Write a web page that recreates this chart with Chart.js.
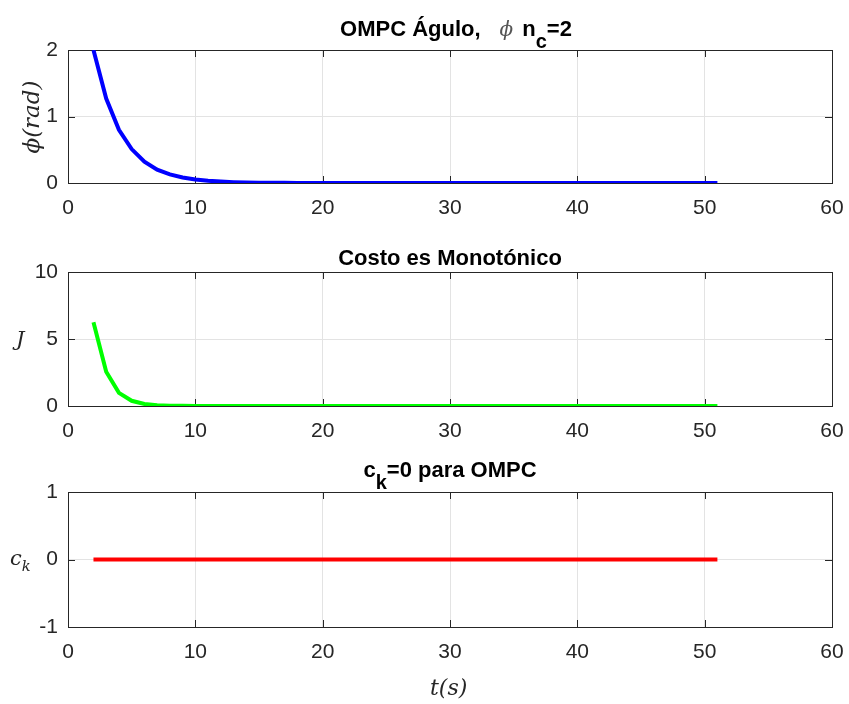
<!DOCTYPE html>
<html><head><meta charset="utf-8">
<script src="https://cdn.jsdelivr.net/npm/chart.js@4/dist/chart.umd.min.js"></script>
<style>
body{margin:0;background:#fff;width:849px;height:704px;position:relative;overflow:hidden;font-family:"Liberation Sans",Arial,sans-serif;}
canvas{position:absolute;left:0;}
.title{position:absolute;left:68px;width:764px;text-align:center;font-weight:bold;font-size:22px;line-height:25px;color:#000;white-space:nowrap;}
.math{font-family:"DejaVu Serif","Liberation Serif",serif;font-style:italic;font-weight:normal;}
.lab{position:absolute;color:#262626;white-space:nowrap;}
.sub{position:relative;top:12px;font-size:20px;}
.lsub{font-size:70%;position:relative;top:6px;}
</style></head><body>
<canvas id="c1" width="849" height="225" style="top:0"></canvas>
<canvas id="c2" width="849" height="225" style="top:225px"></canvas>
<canvas id="c3" width="849" height="254" style="top:450px"></canvas>
<div class="title" style="top:16px;left:74px">OMPC Águlo,<span class="math" style="font-size:20px;color:#555;margin:0 9px 0 19px">ϕ</span>n<span class="sub">c</span>=2</div>
<div class="title" style="top:245px">Costo es Monotónico</div>
<div class="title" style="top:457px">c<span class="sub">k</span>=0 para OMPC</div>
<div class="lab math" style="left:-12px;top:104px;width:86px;font-size:23px;transform:rotate(-90deg);transform-origin:center;text-align:center;">ϕ(rad)</div>
<div class="lab math" style="left:16px;top:327px;font-size:21px;">J</div>
<div class="lab math" style="left:10px;top:546px;font-size:21px;">c<span class="lsub">k</span></div>
<div class="lab math" style="left:430px;top:675px;font-size:22px;">t(s)</div>
<script>
const tSeconds = [2,3,4,5,6,7,8,9,10,11,12,13,14,15,16,17,18,19,20,21,22,23,24,25,26,27,28,29,30,31,32,33,34,35,36,37,38,39,40,41,42,43,44,45,46,47,48,49,50,51];
const phiValues = [2.00,1.27,0.80,0.51,0.32,0.20,0.13,0.082,0.052,0.033,0.021,0.013,0.0084,0.0053,0.0034,0.0021,0.0014,0.0009,0.0006,0.0004,0.0002,0.0001,0,0,0,0,0,0,0,0,0,0,0,0,0,0,0,0,0,0,0,0,0,0,0,0,0,0,0,0];
const costValues = [6.25,2.55,0.98,0.39,0.155,0.062,0.025,0.010,0.004,0.0016,0.0006,0.0003,0.0001,0,0,0,0,0,0,0,0,0,0,0,0,0,0,0,0,0,0,0,0,0,0,0,0,0,0,0,0,0,0,0,0,0,0,0,0,0];
const ckValues = [0,0,0,0,0,0,0,0,0,0,0,0,0,0,0,0,0,0,0,0,0,0,0,0,0,0,0,0,0,0,0,0,0,0,0,0,0,0,0,0,0,0,0,0,0,0,0,0,0,0];
const xTicks = [0,10,20,30,40,50,60];

const boxPlugin = {
  id:'box',
  beforeDatasetsDraw(chart){
    const {ctx, chartArea:a, scales} = chart;
    ctx.save();
    ctx.strokeStyle='#262626'; ctx.lineWidth=1;
    ctx.strokeRect(Math.round(a.left)+0.5, Math.round(a.top)+0.5, Math.round(a.right-a.left), Math.round(a.bottom-a.top));
    ctx.beginPath();
    scales.x.ticks.forEach(t=>{const p=Math.round(scales.x.getPixelForValue(t.value))+0.5;
      ctx.moveTo(p,a.bottom); ctx.lineTo(p,a.bottom-7); ctx.moveTo(p,a.top); ctx.lineTo(p,a.top+7);});
    scales.y.ticks.forEach(t=>{const p=Math.round(scales.y.getPixelForValue(t.value))+0.5;
      ctx.moveTo(a.left,p); ctx.lineTo(a.left+7,p); ctx.moveTo(a.right,p); ctx.lineTo(a.right-7,p);});
    ctx.stroke();
    ctx.restore();
  }
};

function makeChart(id, data, color, ymin, ymax, ystep, topPad, bottomY, canvasH){
  return new Chart(document.getElementById(id), {
    type:'line',
    data:{datasets:[{data:tSeconds.map((t,i)=>({x:t,y:data[i]})), borderColor:color, borderWidth:4, pointRadius:0, tension:0, fill:false}]},
    options:{
      responsive:false, animation:false, devicePixelRatio:1,
      layout:{padding:{top:topPad,right:17,left:0,bottom:0}},
      plugins:{legend:{display:false},tooltip:{enabled:false}},
      scales:{
        x:{type:'linear',min:0,max:60,
          afterBuildTicks(s){s.ticks=xTicks.map(v=>({value:v}));},
          afterFit(s){s.height=canvasH-bottomY; s.paddingLeft=0; s.paddingRight=0;},
          ticks:{font:{size:21,family:'"Liberation Sans",Arial,sans-serif'},color:'#262626',padding:13,maxRotation:0},
          grid:{color:'#e3e3e3',drawTicks:false},border:{display:false}},
        y:{min:ymin,max:ymax,
          ticks:{stepSize:ystep,font:{size:21,family:'"Liberation Sans",Arial,sans-serif'},color:'#262626',padding:10},
          afterFit(s){s.width=68; s.paddingTop=0; s.paddingBottom=0;},
          grid:{color:'#e3e3e3',drawTicks:false},border:{display:false}}
      }
    },
    plugins:[boxPlugin]
  });
}
makeChart('c1', phiValues, '#0000ff', 0, 2, 1, 50, 183, 225);
makeChart('c2', costValues, '#00ff00', 0, 10, 5, 47, 181, 225);
makeChart('c3', ckValues, '#ff0000', -1, 1, 1, 42, 177, 254);
</script>
</body></html>
